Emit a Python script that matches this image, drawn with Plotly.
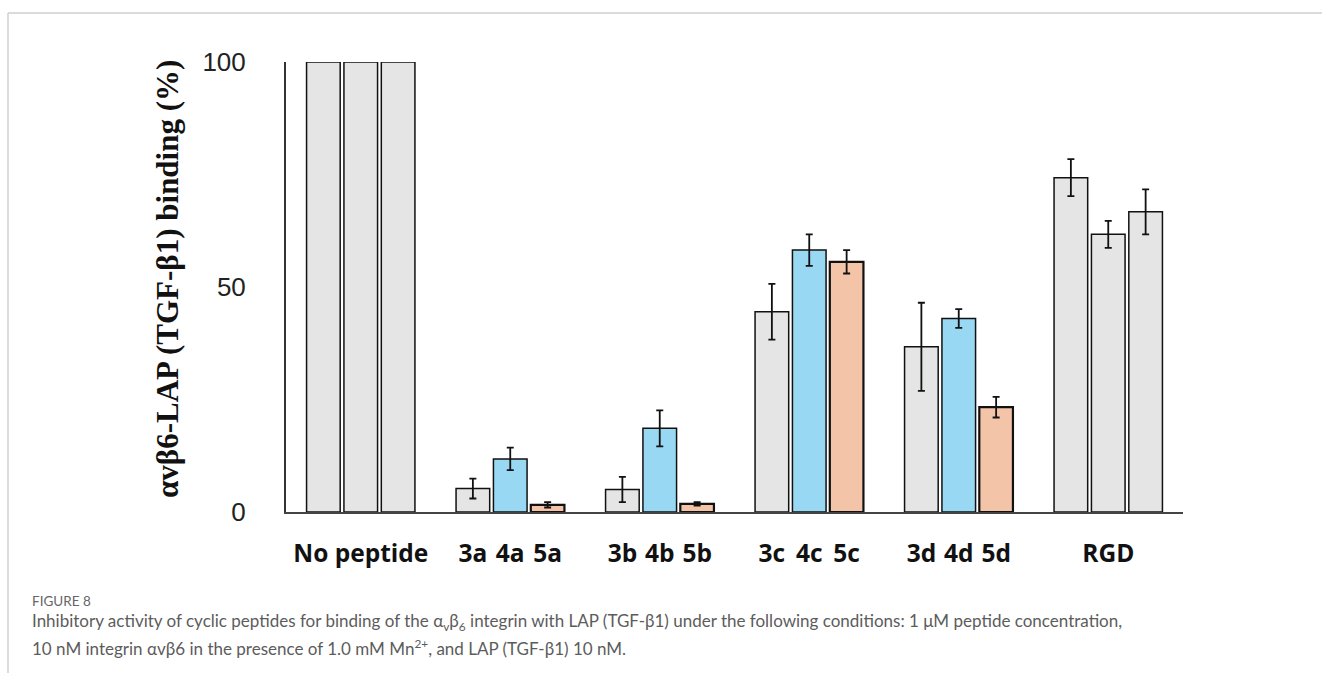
import plotly.graph_objects as go

# ---- data -------------------------------------------------------------
groups = ["No peptide", "a", "b", "c", "d", "RGD"]
compound_prefixes = ["3", "4", "5"]

no_peptide_values = [100, 100, 100]

series3_values = [5.2, 5.0, 44.5, 36.7]     # 3a, 3b, 3c, 3d
series3_errors = [2.2, 2.8, 6.2, 9.8]
series4_values = [11.8, 18.6, 58.2, 43.0]   # 4a, 4b, 4c, 4d
series4_errors = [2.5, 4.0, 3.5, 2.1]
series5_values = [1.6, 1.8, 55.6, 23.3]     # 5a, 5b, 5c, 5d
series5_errors = [0.6, 0.4, 2.6, 2.3]

rgd_values = [74.3, 61.7, 66.7]
rgd_errors = [4.1, 3.0, 5.0]

y_tick_values = [0, 50, 100]
y_tick_labels = ["0", "50", "100"]

# ---- styling ----------------------------------------------------------
GRAY = "#e5e5e5"
BLUE = "#98d8f3"
PEACH = "#f4c4a8"
series_colors = [GRAY, BLUE, PEACH]
series_line_widths = [1.5, 1.5, 2.2]

W, H = 1322, 673
L, R, T, B = 286, 139, 62, 161
PLOT_W = W - L - R
PLOT_H = H - T - B


def px_x(px):
    return (px - L) / PLOT_W


def px_y(py):
    return (H - B - py) / PLOT_H


SLOTS_PER_GROUP = 4   # three bars plus one empty slot between groups


def slot(group_index, bar_index):
    return group_index * SLOTS_PER_GROUP + bar_index


error_style = dict(type="data", visible=True, color="#111111",
                   thickness=1.8, width=3.5)

fig = go.Figure()

# No peptide control
fig.add_trace(go.Bar(
    x=[slot(0, i) for i in range(3)],
    y=no_peptide_values,
    marker=dict(color=GRAY, line=dict(color="#111111", width=1.5)),
    width=0.9,
    cliponaxis=False,
    showlegend=False,
))

# compounds 3x / 4x / 5x within groups a-d
peptide_series = [
    (series3_values, series3_errors),
    (series4_values, series4_errors),
    (series5_values, series5_errors),
]
for g in range(1, 5):
    vals = [peptide_series[k][0][g - 1] for k in range(3)]
    errs = [peptide_series[k][1][g - 1] for k in range(3)]
    fig.add_trace(go.Bar(
        x=[slot(g, k) for k in range(3)],
        y=vals,
        error_y=dict(array=errs, **error_style),
        marker=dict(color=series_colors,
                    line=dict(color="#111111", width=series_line_widths)),
        width=0.9,
        cliponaxis=False,
        showlegend=False,
    ))

# RGD reference
fig.add_trace(go.Bar(
    x=[slot(5, i) for i in range(3)],
    y=rgd_values,
    error_y=dict(array=rgd_errors, **error_style),
    marker=dict(color=GRAY, line=dict(color="#111111", width=1.5)),
    width=0.9,
    cliponaxis=False,
    showlegend=False,
))

# x tick labels: group names for controls, compound names under each bar
tick_vals, tick_text = [slot(0, 1)], [groups[0]]
for g in range(1, 5):
    for k, p in enumerate(compound_prefixes):
        tick_vals.append(slot(g, k))
        tick_text.append(p + groups[g])
tick_vals.append(slot(5, 1))
tick_text.append(groups[5])

fig.update_layout(
    width=W, height=H,
    margin=dict(l=L, r=R, t=T, b=B, pad=0),
    paper_bgcolor="white",
    plot_bgcolor="white",
    bargap=0.1,
    xaxis=dict(
        range=[-1, 23],
        showgrid=False, zeroline=False,
        showline=True, linecolor="#444444", linewidth=1.5,
        tickmode="array", tickvals=tick_vals, ticktext=tick_text,
        ticks="", ticklabelstandoff=19,
        tickfont=dict(family="Open Sans", size=24.5, color="#111111",
                      weight="bold"),
    ),
    yaxis=dict(
        range=[0, 100],
        showgrid=False, zeroline=False,
        showline=True, linecolor="#333333", linewidth=2,
        tickmode="array", tickvals=y_tick_values, ticktext=y_tick_labels,
        ticks="", ticklabelstandoff=33,
        tickfont=dict(family="Liberation Sans", size=26, color="#222222"),
    ),
)

# page frame
frame = dict(type="line", xref="paper", yref="paper",
             line=dict(color="#cfcfcf", width=1.5), layer="below")
fig.add_shape(x0=px_x(8), y0=px_y(13), x1=px_x(W), y1=px_y(13), **frame)
fig.add_shape(x0=px_x(8), y0=px_y(13), x1=px_x(8), y1=px_y(H), **frame)

# y-axis title
fig.add_annotation(
    x=px_x(167), y=px_y(279), xref="paper", yref="paper",
    text="<b>αvβ6-LAP (TGF-β1) binding (%)</b>",
    textangle=-90, showarrow=False,
    font=dict(family="Liberation Serif", size=31, color="#111111"),
    xanchor="center", yanchor="middle",
)

# caption
caption_font = dict(family="Lato", size=17, color="#5c5c5c")
fig.add_annotation(
    x=px_x(30), y=px_y(601), xref="paper", yref="paper",
    text="FIGURE 8", showarrow=False, xanchor="left", yanchor="middle",
    font=dict(family="Lato", size=13.5, color="#666666"),
)
fig.add_annotation(
    x=px_x(30), y=px_y(622), xref="paper", yref="paper",
    text=("Inhibitory activity of cyclic peptides for binding of the "
          "α<sub>v</sub>β<sub>6</sub> integrin with LAP (TGF-β1) under the "
          "following conditions: 1 μM peptide concentration,"),
    showarrow=False, xanchor="left", yanchor="middle", font=caption_font,
)
fig.add_annotation(
    x=px_x(30), y=px_y(647), xref="paper", yref="paper",
    text=("10 nM integrin αvβ6 in the presence of 1.0 mM Mn<sup>2+</sup>, "
          "and LAP (TGF-β1) 10 nM."),
    showarrow=False, xanchor="left", yanchor="middle", font=caption_font,
)

fig.write_html("out.html")
